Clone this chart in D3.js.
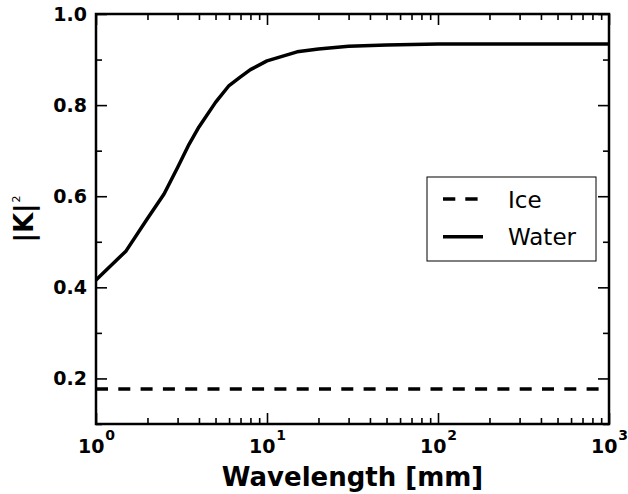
<!DOCTYPE html>
<html>
<head>
<meta charset="utf-8">
<script src="https://cdn.jsdelivr.net/npm/d3@7"></script>
<style>
  html, body { margin: 0; background: #fff; overflow: hidden; }
  svg { display: block; }
  text { font-family: "DejaVu Sans", sans-serif; }
</style>
</head>
<body>
<svg id="chart" width="628" height="494"></svg>
<script>
// wavelength [mm] and |K|^2
const waterWavelength = [1, 1.5, 2, 2.5, 3, 3.5, 4, 5, 6, 7, 8, 10, 15, 20, 30, 50, 100, 200, 500, 1000];
const waterK2 = [0.416, 0.480, 0.551, 0.605, 0.663, 0.714, 0.752, 0.806, 0.843, 0.862, 0.878, 0.897, 0.917, 0.923, 0.929, 0.932, 0.934, 0.934, 0.934, 0.934];
const iceWavelength = [1, 1000];
const iceK2 = [0.177, 0.177];

const xMajorTicks = [1, 10, 100, 1000];
const xExponents = ["0", "1", "2", "3"];
const yMajorTicks = [0.2, 0.4, 0.6, 0.8, 1.0];
const yMinorTicks = [0.1, 0.3, 0.5, 0.7, 0.9];
const seriesNames = ["Ice", "Water"];

const margin = { top: 14, right: 19, bottom: 70, left: 96 };
const width = 628, height = 494;
const innerWidth = width - margin.left - margin.right;
const innerHeight = height - margin.top - margin.bottom;

const svg = d3.select("#chart");
const g = svg.append("g").attr("transform", `translate(${margin.left},${margin.top})`);

const x = d3.scaleLog().domain([1, 1000]).range([0, innerWidth]);
const y = d3.scaleLinear().domain([0.1, 1.0]).range([innerHeight, 0]);

// minor ticks on the log axis: 2..9 in each decade
const xMinorTicks = [];
xMajorTicks.slice(0, -1).forEach(d => {
    for (let k = 2; k <= 9; k++) xMinorTicks.push(d * k);
});

function styleAxis(sel) {
    sel.select(".domain").remove();
    sel.selectAll(".tick line").attr("stroke", "#000").attr("stroke-width", 1.6);
}

// tick marks only, no labels
function marksOnly(sel) {
    styleAxis(sel);
    sel.selectAll(".tick text").remove();
}

// bottom / top x ticks (pointing inward)
g.append("g")
    .attr("transform", `translate(0,${innerHeight})`)
    .call(d3.axisBottom(x).tickValues(xMinorTicks).tickSize(-6))
    .call(marksOnly);
g.append("g")
    .call(d3.axisTop(x).tickValues(xMinorTicks).tickSize(-6))
    .call(marksOnly);
g.append("g")
    .call(d3.axisTop(x).tickValues(xMajorTicks).tickSize(-11))
    .call(marksOnly);

const xAxis = g.append("g")
    .attr("transform", `translate(0,${innerHeight})`)
    .call(d3.axisBottom(x).tickValues(xMajorTicks).tickSize(-11).tickFormat(""))
    .call(styleAxis);

xAxis.selectAll(".tick").each(function(d, i) {
    const t = d3.select(this).select("text")
        .attr("y", 29).attr("dy", null)
        .attr("fill", "#000")
        .style("font-size", "19px").style("font-weight", "bold");
    t.append("tspan").text("10");
    t.append("tspan").attr("dy", -13).attr("dx", 1).style("font-size", "14px").text(xExponents[i]);
});

// left / right y ticks
g.append("g")
    .call(d3.axisLeft(y).tickValues(yMinorTicks).tickSize(-6))
    .call(marksOnly);
g.append("g")
    .attr("transform", `translate(${innerWidth},0)`)
    .call(d3.axisRight(y).tickValues(yMinorTicks).tickSize(-6))
    .call(marksOnly);
g.append("g")
    .attr("transform", `translate(${innerWidth},0)`)
    .call(d3.axisRight(y).tickValues(yMajorTicks).tickSize(-11))
    .call(marksOnly);
g.append("g")
    .call(d3.axisLeft(y).tickValues(yMajorTicks).tickSize(-11).tickPadding(9).tickFormat(d3.format(".1f")))
    .call(styleAxis)
    .call(a => a.selectAll(".tick text")
        .attr("fill", "#000")
        .style("font-size", "19px").style("font-weight", "bold"));

// lines
const line = d3.line()
    .x(d => x(d[0]))
    .y(d => y(d[1]));

g.append("path")
    .datum(d3.zip(iceWavelength, iceK2))
    .attr("fill", "none")
    .attr("stroke", "#000")
    .attr("stroke-width", 3.5)
    .attr("stroke-dasharray", "12,10.3")
    .attr("d", line);

g.append("path")
    .datum(d3.zip(waterWavelength, waterK2))
    .attr("fill", "none")
    .attr("stroke", "#000")
    .attr("stroke-width", 3.5)
    .attr("stroke-linejoin", "round")
    .attr("d", line);

// frame
g.append("rect")
    .attr("width", innerWidth)
    .attr("height", innerHeight)
    .attr("fill", "none")
    .attr("stroke", "#000")
    .attr("stroke-width", 2.5);

// axis labels
svg.append("text")
    .attr("x", margin.left + innerWidth / 2)
    .attr("y", 486)
    .attr("text-anchor", "middle")
    .style("font-size", "26px").style("font-weight", "bold")
    .text("Wavelength [mm]");

const yl = svg.append("text")
    .attr("transform", `translate(33,${margin.top + innerHeight / 2}) rotate(-90)`)
    .attr("text-anchor", "middle");
yl.append("tspan").style("font-size", "26px").style("font-weight", "bold").text("|K|");
yl.append("tspan").attr("dy", -13).attr("dx", 1).style("font-size", "11px").text("2");

// legend
const legend = svg.append("g").attr("transform", "translate(427,177)");
legend.append("rect")
    .attr("width", 169).attr("height", 84)
    .attr("fill", "#fff").attr("stroke", "#000").attr("stroke-width", 1);

const legendItems = legend.selectAll(".item")
    .data(seriesNames)
    .enter().append("g")
    .attr("class", "item")
    .attr("transform", (d, i) => `translate(0,${22 + i * 37.7})`);

legendItems.append("line")
    .attr("x1", 16).attr("x2", 56)
    .attr("stroke", "#000").attr("stroke-width", 3.5)
    .attr("stroke-dasharray", (d, i) => i === 0 ? "12.3,10" : null);

legendItems.append("text")
    .attr("x", 81).attr("y", 8.5)
    .style("font-size", "23px")
    .text(d => d);
</script>
</body>
</html>
